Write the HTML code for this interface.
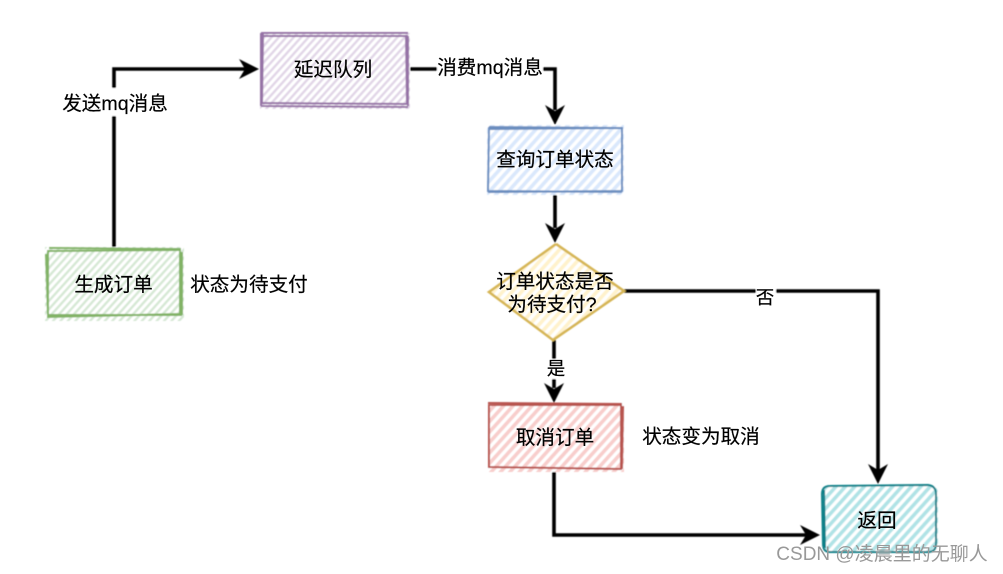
<!DOCTYPE html>
<html>
<head>
<meta charset="utf-8">
<style>
html,body{margin:0;padding:0;background:#fff;width:1003px;height:574px;overflow:hidden}
svg{display:block}
text{font-family:"Liberation Sans","Noto Sans CJK SC",sans-serif;font-size:19.6px;fill:#000;text-anchor:middle;stroke:#000;stroke-width:.2}
.s{fill:none;stroke-width:2}
.c{fill:none;stroke:#000;stroke-width:3.6}
.h{fill:#000}
</style>
</head>
<body>
<svg width="1003" height="574" viewBox="0 0 1003 574" xmlns="http://www.w3.org/2000/svg">
<defs>
<filter id="soft" x="-2%" y="-2%" width="104%" height="104%"><feGaussianBlur stdDeviation="0.45"/></filter>
<filter id="softt" x="-2%" y="-2%" width="104%" height="104%"><feGaussianBlur stdDeviation="0.3"/></filter>
<pattern id="pp" width="5.5" height="5.5" patternUnits="userSpaceOnUse" patternTransform="rotate(-48)"><rect width="5.5" height="5.5" fill="#fff"/><rect width="5.5" height="2.4" fill="#e1d5e7"/></pattern>
<pattern id="pg" width="5.5" height="5.5" patternUnits="userSpaceOnUse" patternTransform="rotate(-48)"><rect width="5.5" height="5.5" fill="#fff"/><rect width="5.5" height="2.4" fill="#d5e8d4"/></pattern>
<pattern id="pb" width="7" height="7" patternUnits="userSpaceOnUse" patternTransform="rotate(-48)"><rect width="7" height="7" fill="#fff"/><rect width="7" height="3.6" fill="#dae8fc"/></pattern>
<pattern id="py" width="7" height="7" patternUnits="userSpaceOnUse" patternTransform="rotate(-48)"><rect width="7" height="7" fill="#fff"/><rect width="7" height="3.6" fill="#fff2cc"/></pattern>
<pattern id="pr" width="7" height="7" patternUnits="userSpaceOnUse" patternTransform="rotate(-48)"><rect width="7" height="7" fill="#fff"/><rect width="7" height="3.6" fill="#f8cecc"/></pattern>
<pattern id="pt" width="7" height="7" patternUnits="userSpaceOnUse" patternTransform="rotate(-48)"><rect width="7" height="7" fill="#fff"/><rect width="7" height="3.6" fill="#b0e3e6"/></pattern>
</defs>

<g filter="url(#soft)">
<!-- connectors -->
<path class="c" d="M114 249V69H246"/>
<path class="h" d="M259 69L239 59L245 69L239 79Z"/>
<path class="c" d="M408 69H555V110"/>
<path class="h" d="M555 125L545 105L555 111L565 105Z"/>
<path class="c" d="M555 193V228"/>
<path class="h" d="M555 243L545 223L555 229L565 223Z"/>
<path class="c" d="M624 291H878V470"/>
<path class="h" d="M878 484L868 464L878 470L888 464Z"/>
<path class="c" d="M554 340V388"/>
<path class="h" d="M554 403L544 383L554 389L564 383Z"/>
<path class="c" d="M554 469V535H806"/>
<path class="h" d="M820 535L800 525L806 535L800 545Z"/>

<!-- purple -->
<rect x="260" y="33" width="150" height="76" fill="url(#pp)"/>
<path class="s" stroke="#9673a6" d="M261 33L408 33M261 36L408 36M261 33V106M263 34L262 103M406 36L407 105M408 36V106M261 103L408 104M261 106L408 107"/>
<!-- green -->
<rect x="45" y="247" width="139" height="74" fill="url(#pg)"/>
<path class="s" stroke="#82b366" d="M49 248L181 249M48 251L181 250M48 250V315M46 254L48 316M180 249L180 316M182 252V315M47 315L182 315M47 317L181 314"/>
<!-- blue -->
<rect x="487" y="125" width="137" height="70" fill="url(#pb)"/>
<path class="s" stroke="#6c8ebf" d="M489 127L622 128M490 129L622 128M489 127L488 192M622 127V192M489 191L622 192M488 192L622 191"/>
<!-- diamond -->
<path d="M556 244L624 291L553 340L489 292Z" fill="url(#py)"/>
<path class="s" stroke="#d6b656" style="stroke-width:2.6" d="M556 244L624 291L553 340L489 292L556 244"/>
<!-- red -->
<rect x="488" y="403" width="136" height="69" fill="url(#pr)"/>
<path class="s" stroke="#b85450" d="M488 403L622 404M490 405L620 405M489 404V468M621 404L621 469M623 406L622 469M488 467L622 469"/>
<!-- teal -->
<rect x="822" y="485" width="116" height="68" rx="8" fill="url(#pt)"/>
<path class="s" stroke="#0e8088" d="M830 486L928 485Q936 486 936 494V544Q936 552 928 552H830Q823 552 823 544L822 494Q822 486 830 486M824 490L825 548"/>

<!-- label backgrounds -->
<rect x="62" y="88" width="106" height="28" fill="#fff"/>
<rect x="437" y="55" width="106" height="26" fill="#fff"/>
<rect x="544" y="359" width="24" height="20" fill="#fff"/>
<rect x="756" y="284" width="20" height="22" fill="#fff"/>
</g>

<!-- labels -->
<g filter="url(#softt)">
<text x="333" y="76">延迟队列</text>
<text x="113.5" y="291">生成订单</text>
<text x="249" y="291">状态为待支付</text>
<text x="115" y="110">发送mq消息</text>
<text x="490" y="74">消费mq消息</text>
<text x="555" y="166">查询订单状态</text>
<text x="555" y="288">订单状态是否</text>
<text x="552" y="311">为待支付?</text>
<text x="556" y="375" style="font-size:18.5px">是</text>
<text x="765" y="304" style="font-size:18.5px">否</text>
<text x="555" y="444">取消订单</text>
<text x="701" y="443">状态变为取消</text>
<text x="877" y="527">返回</text>
<text x="882" y="560" style="font-size:19px;fill:#999;stroke:none">CSDN @凌晨里的无聊人</text>
</g>
</svg>
</body>
</html>
